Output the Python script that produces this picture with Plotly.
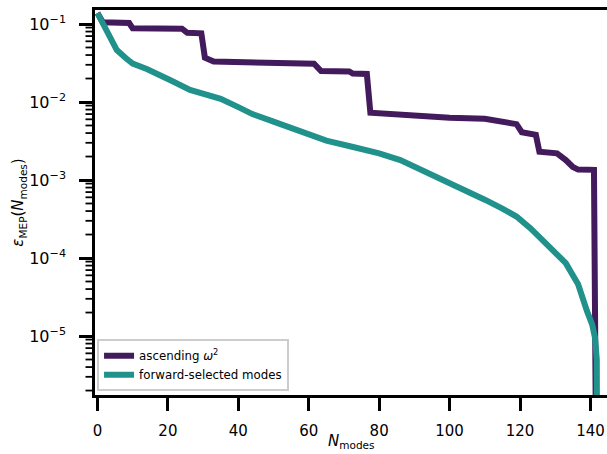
import math
import plotly.graph_objects as go

# ascending omega^2 ordering
n_asc = [0, 1.5, 9, 10, 24, 25.5, 29.5, 30.5, 33, 45, 61.5, 63.5, 71.5, 72.5, 76.5, 77.5,
         86, 100, 110, 115, 119, 120.5, 124.5, 125.5, 130.5, 133, 135, 136.5, 141, 142]
eps_asc = [0.138, 0.105, 0.103, 0.088, 0.087, 0.077, 0.076, 0.037, 0.033, 0.0322, 0.0310,
           0.0250, 0.0246, 0.0232, 0.0229, 0.0073, 0.0068, 0.0063, 0.0061, 0.0057, 0.0052,
           0.0041, 0.0038, 0.0023, 0.0022, 0.0018, 0.00147, 0.00136, 0.00135, 1e-9]

# forward-selected modes
n_fwd = [0, 1, 3, 5.5, 8, 10, 14, 17, 20.6, 26.3, 30, 35, 40, 44, 50, 58, 65, 72.6, 80, 86,
         93.6, 100, 106.7, 110, 115, 119, 123, 126.5, 130, 133, 135, 136.5, 139, 140.5,
         141.3, 141.8, 142]
eps_fwd = [0.138, 0.113, 0.077, 0.0464, 0.0366, 0.0310, 0.0265, 0.0225, 0.0192, 0.0143,
           0.0127, 0.0110, 0.0086, 0.0070, 0.0056, 0.0041, 0.0032, 0.00265, 0.0022, 0.0018,
           0.00125, 0.00094, 0.00068, 0.00056, 0.00043, 0.00034, 0.00024, 0.00017, 0.00012,
           8.6e-5, 6.0e-5, 4.6e-5, 2.1e-5, 1.4e-5, 9.5e-6, 5e-6, 1e-9]

x_ticks = [0, 20, 40, 60, 80, 100, 120, 140]
y_ticks = [1e-5, 1e-4, 1e-3, 1e-2, 1e-1]
y_ticktext = ["10<sup>−5</sup>", "10<sup>−4</sup>", "10<sup>−3</sup>", "10<sup>−2</sup>", "10<sup>−1</sup>"]
minor_decades = [1e-6, 1e-5, 1e-4, 1e-3, 1e-2, 1e-1]
minor_digits = [2, 3, 4, 5, 6, 7, 8, 9]
y_minor = [d * k for d in minor_decades for k in minor_digits]

PURPLE = "#431a5c"
TEAL = "#21918c"
FONT = "DejaVu Sans"
Y_RANGE = [-5.756, -0.8205]
PLOT_W = 607 - 95  # plot area width in px (for tick length in paper units)

fig = go.Figure()
fig.add_trace(go.Scatter(x=n_asc, y=eps_asc, mode="lines", name="ascending <i>ω</i><sup>2</sup>",
                         line=dict(color=PURPLE, width=6)))
fig.add_trace(go.Scatter(x=n_fwd, y=eps_fwd, mode="lines", name="forward-selected modes",
                         line=dict(color=TEAL, width=6)))

# minor ticks of the log y axis (positions follow the axis' log scale)
shapes = []
for v in y_minor:
    f = (math.log10(v) - Y_RANGE[0]) / (Y_RANGE[1] - Y_RANGE[0])
    if 0 <= f <= 1:
        shapes.append(dict(type="line", xref="paper", yref="paper",
                           x0=-9.5 / PLOT_W, x1=-1.2 / PLOT_W, y0=f, y1=f,
                           line=dict(color="black", width=1.8), layer="above"))

fig.update_layout(
    width=607, height=454,
    margin=dict(l=95, r=0, t=10, b=59),
    paper_bgcolor="white", plot_bgcolor="white",
    font=dict(family=FONT, color="black", size=13),
    showlegend=True,
    legend=dict(x=0.004, y=0.01, xanchor="left", yanchor="bottom",
                bgcolor="rgba(255,255,255,0.8)", bordercolor="#cccccc", borderwidth=2,
                font=dict(size=11.8, family=FONT), itemwidth=30),
    shapes=shapes,
    annotations=[dict(text="<i>N</i><sub>modes</sub>", xref="paper", yref="paper",
                      x=0.5, y=0, yshift=-46, xanchor="center", yanchor="middle",
                      showarrow=False, font=dict(size=15, family=FONT))],
)
fig.update_xaxes(
    range=[-0.7, 144.7], tickmode="array", tickvals=x_ticks,
    showline=True, linecolor="black", linewidth=2.5, mirror=True,
    ticks="outside", ticklen=13, tickwidth=2.5, tickcolor="black",
    showgrid=False, zeroline=False, tickfont=dict(size=15),
    ticklabelstandoff=7,
)
fig.update_yaxes(
    type="log", range=Y_RANGE, tickmode="array", tickvals=y_ticks, ticktext=y_ticktext,
    showline=True, linecolor="black", linewidth=2.5, mirror=False,
    ticks="outside", ticklen=13, tickwidth=2.5, tickcolor="black",
    showgrid=False, zeroline=False, tickfont=dict(size=16),
    ticklabelstandoff=10,
    title=dict(text="<i>ε</i><sub>MEP</sub>(<i>N</i><sub>modes</sub>)", font=dict(size=15), standoff=2),
)

fig.write_html("out.html")
